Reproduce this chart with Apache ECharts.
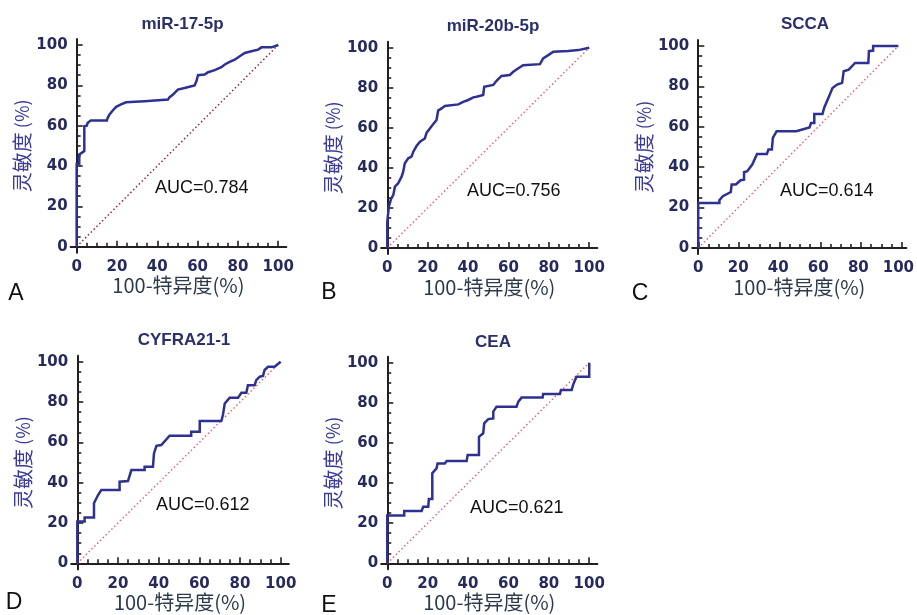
<!DOCTYPE html>
<html>
<head>
<meta charset="utf-8">
<script src="https://cdn.jsdelivr.net/npm/echarts@6/dist/echarts.min.js"></script>
<style>
  html, body { margin: 0; padding: 0; background: #fff; }
  #myChart { width: 917px; height: 615px; }
</style>
</head>
<body>
<!-- ROC 曲线 5 联图 -->
<div id="myChart"></div>
<script>
var titles = ['miR-17-5p', 'miR-20b-5p', 'SCCA', 'CYFRA21-1', 'CEA']
var aucValues = ['0.784', '0.756', '0.614', '0.612', '0.621']
var panelLetters = ['A', 'B', 'C', 'D', 'E']
var tickLabels = [0, 20, 40, 60, 80, 100]
var diagonal = [[0, 0], [100, 100]]

// [100-特异度, 灵敏度]
var rocA = [[0,0],[0,41],[1.3,41],[1.3,45.7],[2.5,46.5],[3,47.4],[3.8,47.4],[3.8,59.7],[5,60],[5.5,61.4],[7,62.5],[15,62.5],[15.4,63.9],[16.3,65.5],[17.9,67.5],[19.6,69.3],[22,70.5],[24.5,71.6],[33.7,72.1],[34.5,72.9],[45.3,72.9],[46,74],[47.8,75.4],[50.2,77.9],[53.6,78.7],[56.9,79.5],[58.5,79.9],[59.4,82],[60.2,85],[63.5,85.3],[65.2,86.5],[68.5,87.5],[71.8,89],[73.5,90.3],[75.9,91.6],[78.4,92.7],[80.9,94.4],[83.4,96],[86.7,96.9],[90,97.7],[91.7,98.8],[96.7,98.8],[100,100]]
var rocB = [[0,0],[0,13],[0.8,13],[0.8,20.6],[1.8,24.3],[3,26.5],[3.8,30.6],[5.4,32.3],[7.1,35.6],[7.9,38.1],[8.7,42.3],[10.4,44.8],[12,45.6],[12.9,48.1],[14.5,50.9],[16.2,53.1],[18.6,54.7],[19.5,57.6],[21.1,59.7],[22.8,61.9],[24.4,63.9],[25.2,68.6],[26.9,69.7],[28.5,70.9],[35.2,71.7],[37.6,73],[40.1,73.9],[42.6,75.2],[44.2,75.5],[47.5,76.4],[48,80.5],[52.5,81.4],[54.1,83.5],[56.6,85.9],[60.7,86.4],[62.4,88],[64.9,89.7],[67.3,91.3],[75.6,91.8],[77.2,94.7],[79.7,96.3],[82.2,98],[89.6,98.3],[94.6,98.8],[100,100]]
var rocC = [[0,0],[0,22.3],[10.6,22.3],[10.6,23.6],[12.3,25.6],[16.3,27.7],[16.7,31.4],[18.8,31.4],[21.2,33.5],[22.9,33.8],[22.9,37.5],[24.5,38],[27,41.3],[29.4,46.5],[34.3,46.5],[35.1,48.7],[36.8,48.7],[37.3,54.5],[39.2,57.8],[49,57.8],[55.6,59.7],[56.4,61.9],[58,61.9],[58,66.3],[62.1,66.3],[62.9,69.3],[65.4,75.1],[67.1,79.2],[69.4,80.9],[71.9,81.7],[72.7,87.5],[75.2,88.3],[78.4,91.6],[85,91.6],[85.3,97.4],[87.4,97.7],[87.4,100],[100,100]]
var rocD = [[0,0],[0,20.7],[3.6,20.7],[3.6,22.8],[8.2,22.8],[8.2,29.8],[10.2,33.9],[11.8,36.4],[20.8,36.4],[20.8,40.5],[24.9,40.8],[26.6,46.3],[33.1,46.3],[33.1,47.9],[37.2,47.9],[37.7,54.5],[38.9,58.3],[41.3,58.7],[45.4,63.3],[56,63.3],[56,65.3],[60.2,65.3],[60.2,70.6],[70.8,70.6],[71.6,73.6],[72.5,79.3],[74.9,82.1],[79,82.1],[80.7,84.6],[83.1,84.6],[83.9,88.4],[87.2,88.4],[88,90.9],[89.7,92.6],[91.3,93],[92.1,95.9],[93.8,97.5],[97,97.5],[100,100]]
var rocE = [[0,0],[0,23.8],[8.4,23.8],[8.4,26.1],[17,26.1],[17.8,28.2],[20.3,28.2],[20.6,32.1],[22.3,32.1],[22.3,44.9],[24.4,47.3],[24.9,49.8],[28.5,49.8],[29.4,51],[39.3,51],[39.8,54],[45.4,54],[45.4,63.1],[47.5,64.8],[48,69.8],[50,71.9],[52.5,72.2],[52.5,75.6],[54.1,78.1],[64,78.1],[64.9,80.6],[66.5,82.6],[76.9,82.6],[77.2,84.4],[85.5,84.4],[86,86.4],[91.3,86.4],[92.1,89.2],[93.7,93],[100,93],[100,100]]
var rocData = [rocA, rocB, rocC, rocD, rocE]

// 每个小图的位置（像素）, 外框范围 x: -3~104, y: -3~103
var panels = [
  { grid: { left: 70.6, top: 38.9, width: 215.7, height: 213.8 }, titleX: 177.5, titleY: 11, aucX: 155, aucY: 188, letterX: 16, letterY: 294, diag: '#8b1a3a' },
  { grid: { left: 381.2, top: 41.7, width: 216.1, height: 212.3 }, titleX: 488, titleY: 13, aucX: 467, aucY: 191, letterX: 329, letterY: 293, diag: '#e0606e' },
  { grid: { left: 692.2, top: 39.9, width: 217.6, height: 214.1 }, titleX: 800, titleY: 11, aucX: 780, aucY: 191, letterX: 640, letterY: 294, diag: '#e0606e' },
  { grid: { left: 71.2, top: 355.7, width: 217.6, height: 213.7 }, titleX: 179, titleY: 327, aucX: 156, aucY: 505, letterX: 14, letterY: 603, diag: '#e0606e' },
  { grid: { left: 381.2, top: 356.7, width: 216.1, height: 212.6 }, titleX: 488, titleY: 329, aucX: 470, aucY: 508, letterX: 329, letterY: 606, diag: '#e0606e' }
]

var labelFont = { fontFamily: 'DejaVu Sans', fontWeight: 'bold', fontSize: 15, color: '#262a5c' }
var axisColor = '#231f20'

var grids = [], xAxes = [], yAxes = [], series = [], title = [], graphic = []
panels.forEach(function (p, i) {
  var g = p.grid
  var ux = g.width / 107, uy = g.height / 106
  // 外框：轴线 + 刻度文字
  grids.push({ left: g.left, top: g.top, width: g.width, height: g.height })
  // 内框：0~100 的刻度线
  grids.push({ left: g.left + 3 * ux, top: g.top + 3 * uy, width: 100 * ux, height: 100 * uy })

  title.push({
    text: titles[i],
    left: p.titleX,
    top: p.titleY,
    textAlign: 'center',
    textStyle: { fontFamily: 'Liberation Sans', fontWeight: 'bold', fontSize: 17, color: '#2b2f6a' }
  })
  xAxes.push({
    type: 'value',
    gridIndex: 2 * i,
    min: -3,
    max: 104,
    name: '100-特异度(%)',
    nameLocation: 'middle',
    nameGap: 23,
    nameTextStyle: { fontFamily: 'Noto Sans CJK SC', fontSize: 20, color: '#2c3a4c' },
    axisLine: { show: true, lineStyle: { color: axisColor, width: 2 } },
    axisTick: { show: false },
    axisLabel: Object.assign({ show: true, margin: 7, customValues: tickLabels }, labelFont),
    splitLine: { show: false }
  })
  xAxes.push({
    type: 'value',
    gridIndex: 2 * i + 1,
    min: 0,
    max: 100,
    interval: 20,
    offset: 3 * uy,
    axisLine: { show: false },
    axisTick: { show: true, inside: true, length: 6, lineStyle: { color: axisColor, width: 1.6 } },
    minorTick: { show: true, splitNumber: 4, length: 4, lineStyle: { color: axisColor, width: 1.6 } },
    axisLabel: { show: false },
    splitLine: { show: false }
  })
  yAxes.push({
    type: 'value',
    gridIndex: 2 * i,
    min: -3,
    max: 103,
    name: '{a|灵敏度}{b| (%)}',
    nameLocation: 'middle',
    nameGap: 37,
    nameTextStyle: {
      color: '#3b3b98',
      rich: {
        a: { fontFamily: 'Noto Sans CJK SC', fontSize: 20, color: '#3b3b98' },
        b: { fontFamily: 'Noto Sans CJK SC', fontSize: 18, color: '#3b3b98' }
      }
    },
    axisLine: { show: true, lineStyle: { color: axisColor, width: 2 } },
    axisTick: { show: false },
    axisLabel: Object.assign({ show: true, margin: 3, customValues: tickLabels }, labelFont),
    splitLine: { show: false }
  })
  yAxes.push({
    type: 'value',
    gridIndex: 2 * i + 1,
    min: 0,
    max: 100,
    interval: 20,
    offset: 3 * ux,
    axisLine: { show: false },
    axisTick: { show: true, inside: true, length: 6, lineStyle: { color: axisColor, width: 1.6 } },
    minorTick: { show: true, splitNumber: 4, length: 4, lineStyle: { color: axisColor, width: 1.6 } },
    axisLabel: { show: false },
    splitLine: { show: false }
  })
  series.push({
    type: 'line',
    xAxisIndex: 2 * i,
    yAxisIndex: 2 * i,
    data: diagonal,
    showSymbol: false,
    silent: true,
    z: 1,
    lineStyle: { color: p.diag, width: 1.4, type: [1.5, 2.5] }
  })
  series.push({
    type: 'line',
    xAxisIndex: 2 * i,
    yAxisIndex: 2 * i,
    data: rocData[i],
    showSymbol: false,
    z: 2,
    lineStyle: { color: '#2e3192', width: 2.5, join: 'miter' }
  })
  graphic.push({
    type: 'text',
    x: p.aucX,
    y: p.aucY,
    style: { text: 'AUC=' + aucValues[i], font: '18px "Liberation Sans"', fill: '#111', verticalAlign: 'middle', align: 'left' }
  })
  graphic.push({
    type: 'text',
    x: p.letterX,
    y: p.letterY,
    style: { text: panelLetters[i], font: '23px "Liberation Sans"', fill: '#111', verticalAlign: 'middle', align: 'center' }
  })
})

var myChart = echarts.init(document.getElementById('myChart'))
myChart.setOption({
  animation: false,
  backgroundColor: '#fff',
  title: title,
  grid: grids,
  xAxis: xAxes,
  yAxis: yAxes,
  series: series,
  graphic: graphic
})
</script>
</body>
</html>
